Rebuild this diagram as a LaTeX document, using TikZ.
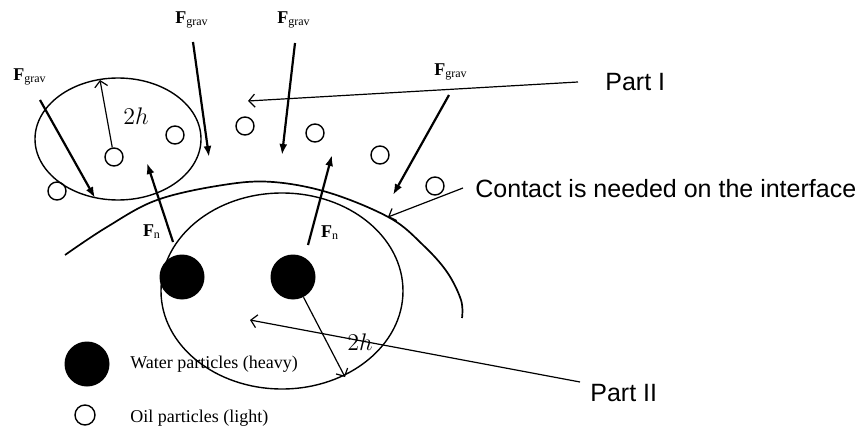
\documentclass[tikz,border=0pt]{standalone}
\usepackage{fontspec}
\setmainfont{Liberation Serif}
\newfontfamily\arialfont{Liberation Sans}
\usetikzlibrary{arrows.meta,shapes.geometric}
\newcommand{\Fgrav}{\textbf{F}\textsubscript{grav}}
\newcommand{\Fnorm}{\textbf{F}\textsubscript{n}}

\begin{document}
\begin{tikzpicture}[
		x=0.5pt,y=-0.5pt,
		every node/.style={inner sep=0pt},
		oil/.style={circle,draw,line width=0.7pt,minimum size=9pt},
		water/.style={circle,fill=black,minimum size=22.5pt},
		drop/.style={ellipse,draw,line width=0.7pt},
		force/.style={-{Latex[length=5.5pt,width=4pt]},line width=1.1pt},
		leader/.style={-{Straight Barb[length=3pt,width=6.5pt]},line width=0.6pt},
		tag/.style={font=\arialfont\fontsize{12.5}{15}\selectfont,anchor=west},
		flabel/.style={font=\fontsize{9}{11}\selectfont},
		legend/.style={font=\fontsize{9}{11}\selectfont,anchor=west}
		]
		\useasboundingbox (0,0) rectangle (857,433);

		% interface between the two parts
		\draw[line width=0.85pt] plot[smooth,tension=0.6] coordinates {(65,255) (107,227) (157,200) (223,185)
			(273,182) (330,193) (390,218) (423,245) (447,272) (461,300) (462,318)};

		% the two support domains
		\node[drop,minimum width=83pt,minimum height=61pt] (dropI) at (118,139) {};
		\node[drop,minimum width=121pt,minimum height=98pt] (dropII) at (282,291) {};

		% oil particles
		\node[oil] (o1) at (114,157) {};
		\node[oil] (o2) at (175,135) {};
		\node[oil] (o3) at (245,126) {};
		\node[oil] (o4) at (315,133) {};
		\node[oil] (o5) at (380,155) {};
		\node[oil] (o6) at (435,186) {};
		\node[oil] (o7) at (57,191) {};

		% water particles
		\node[water] (w1) at (182,277) {};
		\node[water] (w2) at (293,277) {};

		% radii 2h
		\coordinate (h1) at (100,80);
		\coordinate (h2) at (345,377);
		\draw[leader] (o1) -- (h1);
		\draw[leader] (w2) -- (h2);
		\node[font=\fontsize{12}{14}\selectfont] (hI) at (136,116) {$2h$};
		\node[font=\fontsize{12}{14}\selectfont] (hII) at (360,342) {$2h$};

		% gravity forces
		\coordinate (g1a) at (40,100);  \coordinate (g1b) at (95,198);
		\coordinate (g2a) at (193,42);  \coordinate (g2b) at (209,157);
		\coordinate (g3a) at (295,43);  \coordinate (g3b) at (282,155);
		\coordinate (g4a) at (449,95);  \coordinate (g4b) at (393,195);
		\draw[force] (g1a) -- (g1b);
		\draw[force] (g2a) -- (g2b);
		\draw[force] (g3a) -- (g3b);
		\draw[force] (g4a) -- (g4b);
		\node[flabel] (fg1) at (30,77) {\Fgrav};
		\node[flabel] (fg2) at (192,20) {\Fgrav};
		\node[flabel] (fg3) at (294,20) {\Fgrav};
		\node[flabel] (fg4) at (451,72) {\Fgrav};

		% normal forces
		\coordinate (n1a) at (173,242); \coordinate (n1b) at (147,163);
		\coordinate (n2a) at (308,245); \coordinate (n2b) at (332,155);
		\draw[force] (n1a) -- (n1b);
		\draw[force] (n2a) -- (n2b);
		\node[flabel] (fn1) at (152,232) {\Fnorm};
		\node[flabel] (fn2) at (330,233) {\Fnorm};

		% callouts
		\node[tag] (partI) at (605,82) {Part I};
		\node[tag] (contact) at (475,189) {Contact is needed on the interface};
		\node[tag] (partII) at (590,393) {Part II};
		\coordinate (c1) at (578,82);   \coordinate (t1) at (248,101);
		\coordinate (c2) at (463,188);  \coordinate (t2) at (388,217);
		\coordinate (c3) at (580,382);  \coordinate (t3) at (250,320);
		\draw[leader] (c1) -- (t1);
		\draw[leader] (c2) -- (t2);
		\draw[leader] (c3) -- (t3);

		% legend
		\node[water] (lw) at (87,364) {};
		\node[oil,minimum size=10pt] (lo) at (85,415) {};
		\node[legend] (lwt) at (130,364) {Water particles (heavy)};
		\node[legend] (lot) at (130,418) {Oil particles (light)};
	\end{tikzpicture}
\end{document}
